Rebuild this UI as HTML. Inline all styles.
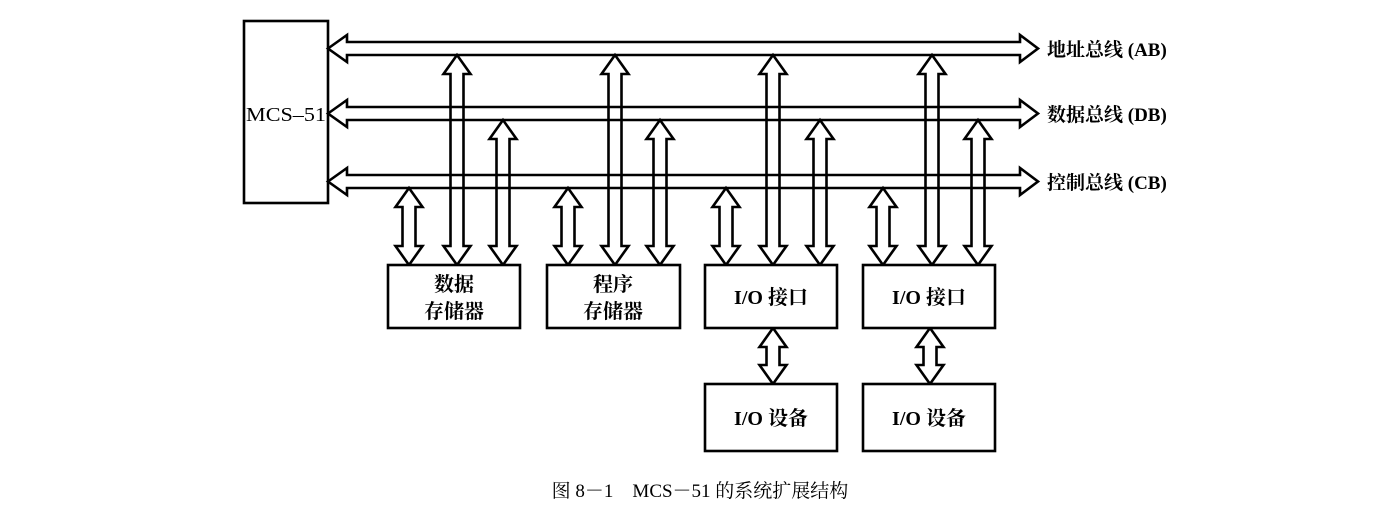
<!DOCTYPE html>
<html><head><meta charset="utf-8"><style>
html,body{margin:0;padding:0;background:#fff;width:1386px;height:514px;overflow:hidden}
text{font-family:"Liberation Serif","Noto Serif CJK SC",serif;fill:#000}
</style></head><body>
<svg width="1386" height="514" viewBox="0 0 1386 514" xmlns="http://www.w3.org/2000/svg">
<g fill="#fff" stroke="#000" stroke-width="2.6" stroke-linejoin="miter">
<rect x="244" y="21" width="84" height="182"/>
<polygon points="328,48.5 347,35 347,42 1020,42 1020,35 1038,48.5 1020,62 1020,55 347,55 347,62"/>
<polygon points="328,113.5 347,100 347,107 1020,107 1020,100 1038,113.5 1020,127 1020,120 347,120 347,127"/>
<polygon points="328,181.5 347,168 347,175 1020,175 1020,168 1038,181.5 1020,195 1020,188 347,188 347,195"/>
</g>
<g fill="none" stroke="#000" stroke-width="2.6" id="verts"></g>
<g fill="#fff" stroke="#000" stroke-width="2.6">
<rect x="388" y="265" width="132" height="63"/>
<rect x="547" y="265" width="133" height="63"/>
<rect x="705" y="265" width="132" height="63"/>
<rect x="863" y="265" width="132" height="63"/>
<rect x="705" y="384" width="132" height="67"/>
<rect x="863" y="384" width="132" height="67"/>
</g>
<text x="246" y="121" font-size="20" textLength="80" lengthAdjust="spacingAndGlyphs">MCS–51</text>
<g font-size="19" font-weight="bold">
<text x="1047" y="56">地址总线 (AB)</text>
<text x="1047" y="121">数据总线 (DB)</text>
<text x="1047" y="189">控制总线 (CB)</text>
</g>
<g font-size="20" font-weight="bold" text-anchor="middle">
<text x="454" y="291">数据</text>
<text x="454" y="318">存储器</text>
<text x="613" y="291">程序</text>
<text x="613" y="318">存储器</text>
<text x="771" y="304">I/O 接口</text>
<text x="929" y="304">I/O 接口</text>
<text x="771" y="425">I/O 设备</text>
<text x="929" y="425">I/O 设备</text>
</g>
<text x="700" y="497" font-size="19" text-anchor="middle">图 8－1　MCS－51 的系统扩展结构</text>
<script>
var g=document.getElementById('verts');
function va(cx,y1,y2){var w=6.5,h=13.5,a=19;
var p=[[cx,y1],[cx+h,y1+a],[cx+w,y1+a],[cx+w,y2-a],[cx+h,y2-a],[cx,y2],[cx-h,y2-a],[cx-w,y2-a],[cx-w,y1+a],[cx-h,y1+a]];
var e=document.createElementNS('http://www.w3.org/2000/svg','polygon');
e.setAttribute('points',p.map(function(q){return q.join(',')}).join(' '));g.appendChild(e);}
[[409,568,726,883],[457,615,773,932],[503,660,820,978]].forEach(function(xs,i){
var top=[188,55,120][i];xs.forEach(function(x){va(x,top,265);});});
va(773,328,384);va(930,328,384);
</script>
</svg>
</body></html>
